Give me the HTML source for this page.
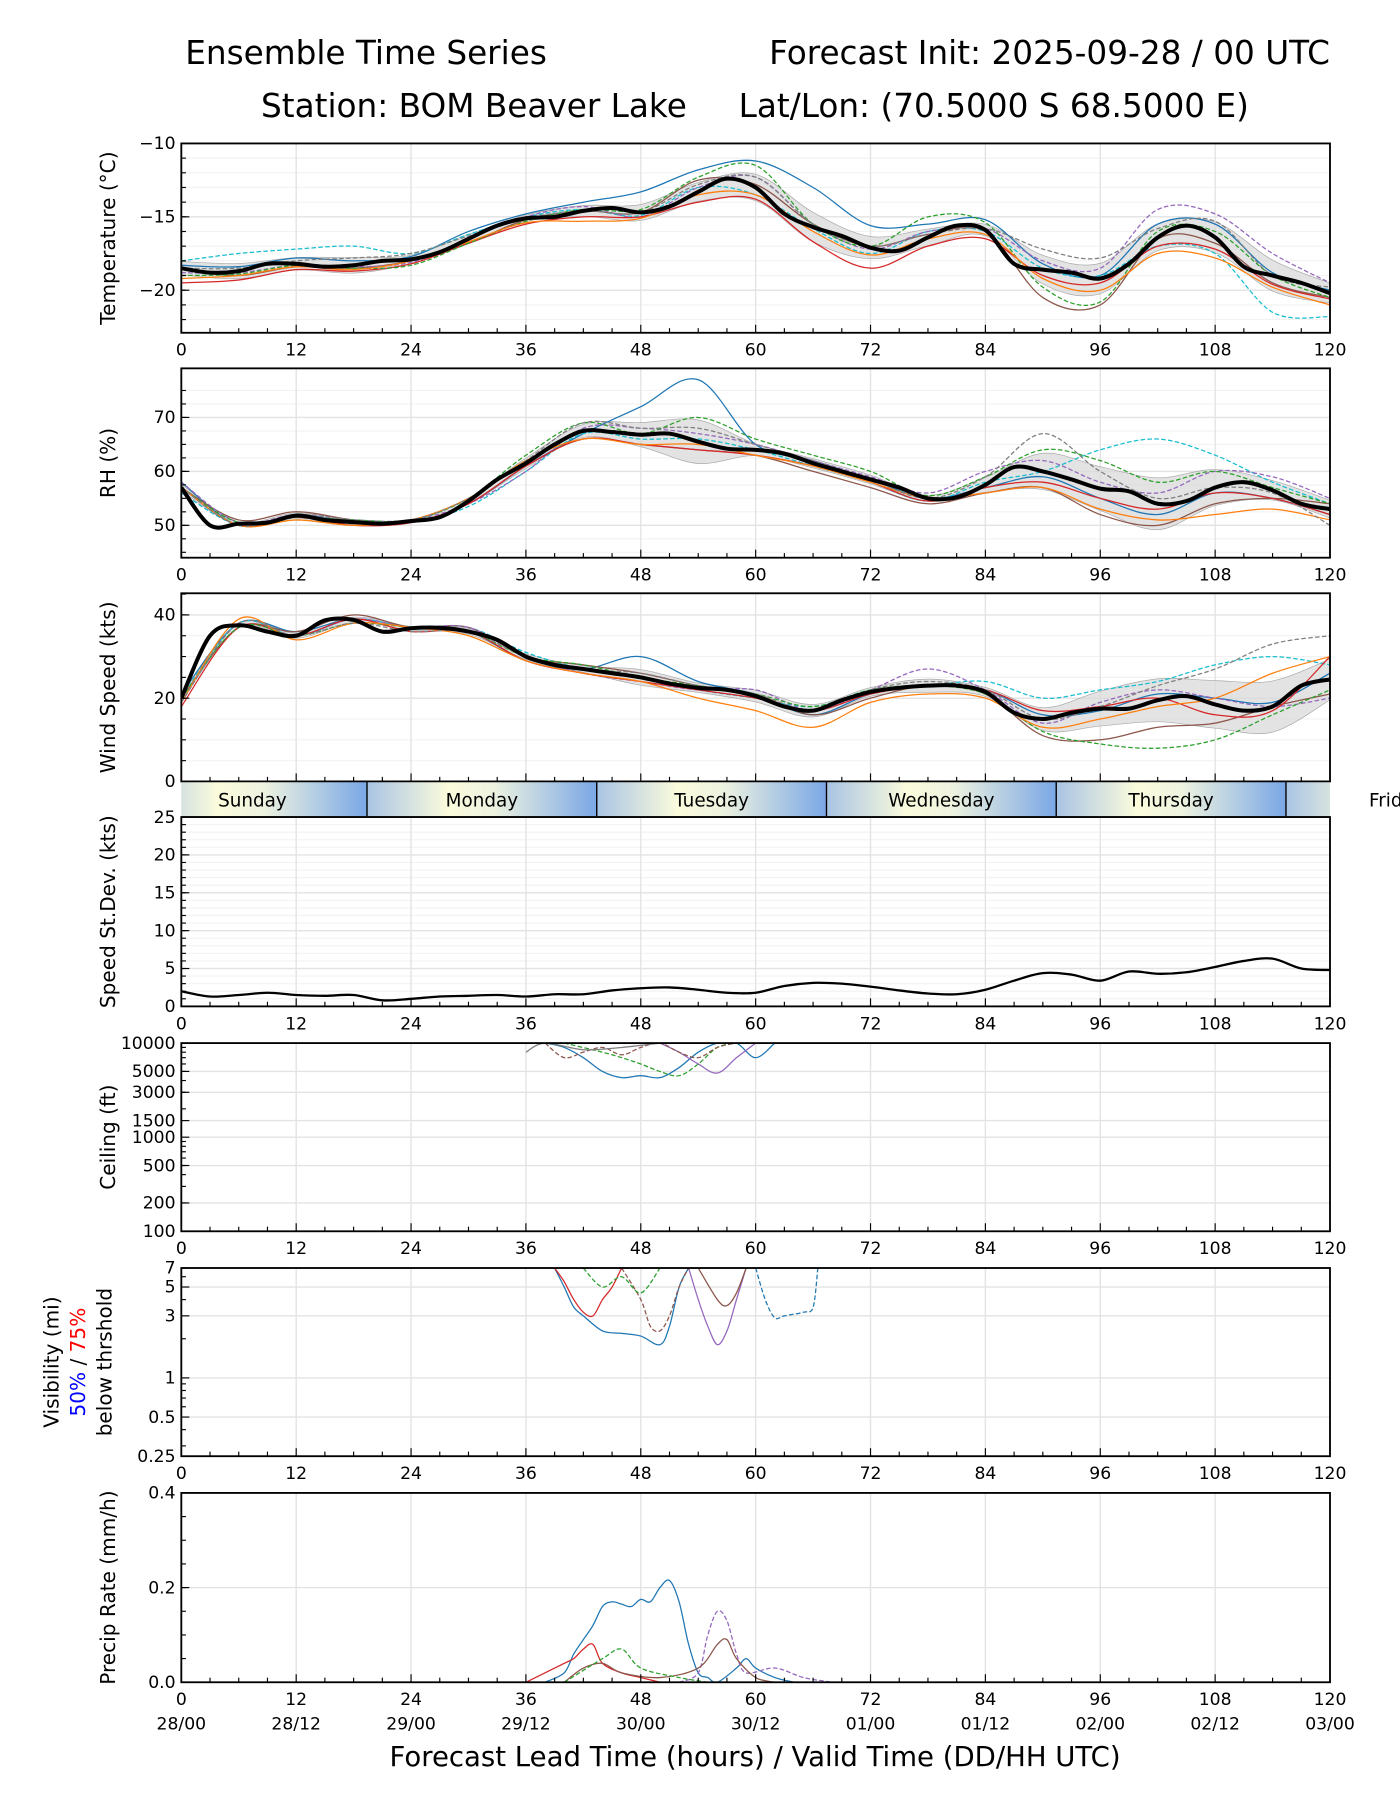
<!DOCTYPE html>
<html><head><meta charset="utf-8"><style>
html,body{margin:0;padding:0;background:#fff}
svg{display:block;font-family:"DejaVu Sans","Liberation Sans",sans-serif}
</style></head><body>
<svg id="chart" xmlns="http://www.w3.org/2000/svg" width="1400" height="1800" viewBox="0 0 1220 1568.6" preserveAspectRatio="none">
<text x="319" y="56" font-size="28.5" text-anchor="middle">Ensemble Time Series</text>
<text x="1159" y="56" font-size="28.5" text-anchor="end">Forecast Init: 2025-09-28 / 00 UTC</text>
<text x="413" y="102" font-size="28.5" text-anchor="middle">Station: BOM Beaver Lake</text>
<text x="866" y="102" font-size="28.5" text-anchor="middle">Lat/Lon: (70.5000 S 68.5000 E)</text>
<text x="658" y="1539" font-size="24" text-anchor="middle">Forecast Lead Time (hours) / Valid Time (DD/HH UTC)</text>
<g id="plots"></g>
</svg>
<script>
const hours3=[0,3,6,9,12,15,18,21,24,27,30,33,36,39,42,45,48,51,54,57,60,63,66,69,72,75,78,81,84,87,90,93,96,99,102,105,108,111,114,117,120];
const hours6=[0,6,12,18,24,30,36,42,48,54,60,66,72,78,84,90,96,102,108,114,120];
const xTicks=[0,12,24,36,48,60,72,84,96,108,120];
const dateLabels=["28/00","28/12","29/00","29/12","30/00","30/12","01/00","01/12","02/00","02/12","03/00"];
const dayNames=["Sunday","Monday","Tuesday","Wednesday","Thursday","Friday"];
const dayStartHour=-4.6;
const colors=["#1f77b4","#17becf","#8c564b","#9467bd","#d62728","#2ca02c","#ff7f0e","#7f7f7f"];

const tempMean=[-18.5,-18.8,-18.7,-18.2,-18.2,-18.4,-18.3,-18.0,-17.9,-17.4,-16.5,-15.6,-15.1,-15.0,-14.6,-14.4,-14.7,-14.3,-13.3,-12.4,-13.0,-14.8,-15.7,-16.3,-17.1,-17.3,-16.4,-15.6,-15.9,-18.2,-18.6,-18.8,-19.2,-18.2,-16.4,-15.6,-16.4,-18.4,-19.0,-19.5,-20.2];
const tempMembers=[
[-18.3,-18.4,-17.8,-18.0,-17.7,-16.0,-14.8,-14.0,-13.3,-11.8,-11.2,-13.0,-15.6,-15.5,-15.2,-18.2,-19.0,-15.5,-15.5,-18.8,-20.0],
[-18.0,-17.5,-17.2,-17.0,-17.5,-16.2,-15.0,-14.5,-14.9,-13.0,-13.5,-15.8,-17.5,-16.0,-16.0,-18.5,-19.0,-17.0,-17.5,-21.5,-21.8],
[-18.6,-19.0,-18.4,-18.5,-18.0,-16.8,-15.2,-14.6,-14.7,-12.5,-12.8,-15.5,-17.0,-16.2,-16.0,-20.5,-21.0,-16.5,-16.8,-19.5,-20.5],
[-18.8,-18.8,-18.3,-18.4,-18.1,-16.5,-15.0,-14.3,-15.0,-13.0,-12.3,-15.5,-17.2,-16.0,-15.8,-18.0,-18.5,-14.5,-14.8,-17.5,-19.5],
[-19.5,-19.3,-18.6,-18.7,-18.2,-16.8,-15.5,-15.0,-15.0,-14.0,-13.8,-16.7,-18.5,-17.0,-16.5,-19.0,-19.5,-17.0,-17.2,-19.6,-20.6],
[-19.0,-18.9,-18.3,-18.5,-18.3,-16.8,-15.3,-14.5,-14.5,-12.3,-11.5,-15.5,-17.0,-15.0,-15.4,-19.8,-20.8,-16.0,-16.0,-19.0,-20.5],
[-19.2,-19.0,-18.4,-18.6,-18.0,-16.7,-15.4,-15.3,-15.1,-13.5,-13.5,-16.0,-17.6,-16.5,-16.2,-19.2,-20.0,-17.5,-17.8,-19.8,-21.0],
[-18.5,-18.5,-18.0,-17.8,-17.5,-16.3,-15.1,-14.6,-14.7,-12.8,-12.3,-15.5,-17.0,-16.2,-15.8,-17.2,-17.8,-15.8,-15.3,-19.0,-19.8]];
const tempTicks=[-20,-15,-10];

const rhMean=[57,50,50.3,50.5,51.8,51,50.6,50.3,50.8,51.5,54.5,58.5,61.5,65,67.5,67.3,66.8,67,65.5,64.2,64,63.3,61.5,60,58.5,57,55,55.2,57.5,60.8,60,58.5,56.8,56.3,54,54.5,57,58,56.5,54,53];
const rhMembers=[
[58,50,52,50.5,50.5,54,61,67,72,77,65,62,58.5,55,57,59,55,52,56,55,52],
[56,50,51,50,50.5,53.5,60,67,66,66,64,61,58,54.5,58,60,64,66,63,58,54],
[57,51,52.5,51,50.5,54,61,66,65,64,63,60,57,54,56,57,52,50,54,55,54],
[58,50.5,52,51,51,54,60,68,68,67,65,62,59,56,60,62,58,56,60,59,55],
[57,50,51.5,50,50.5,54,61,66,65,64,63,61,58,54.5,57,58,55,53,56,55,52],
[57,50.5,51.5,51,51,55,63,69,67,70,66,63,60,55.5,59,64,62,58,60,57,54],
[57,50,51,50,51,55,62,66,65,65,63,61,58,55,56,57,53,51,52,53,51],
[57,50,52,51,51,55,62,69,68,68,65,62,58.5,55,59,67,60,55,57,56,50]];
const rhTicks=[50,60,70];

const windMean=[20,35,37.5,36,35,38.7,38.8,36,36.8,36.9,36,34,30,28,27,26,25,23.5,22.5,22,20.5,18,17,19.5,21.5,22.5,23,23,21.5,16.5,15,16.5,17.5,17.5,19.5,20.5,18.5,17,18,23,24.5];
const windMembers=[
[21,38,36,39,37,36,29,27,30,24,21,16,21,23,22,16,17,21,20,19,26],
[20,38,35,39,37,37,31,27,25,22,20,18,22,23,24,20,22,24,28,30,28],
[20,37,36,40,37,37,30,28,26,23,21,16,20,23,21,11,10,13,14,18,21],
[19,38,35,39,37,37,30,26,24,22,22,17,22,27,22,14,19,22,20,18,20],
[18,37,35,39,36,36,29,26,24,22,20,17,21,23,22,17,18,20,16,17,30],
[20,37,35,38,37,36,30,28,25,23,21,18,22,23,21,12,9,8,10,16,22],
[19,39,34,38,37,35,29,26,24,20,17,13,19,21,20,13,15,18,20,26,30],
[19,38,35,38,36,36,30,27,26,23,21,17,22,24,22,15,18,23,27,33,35]];
const windTicks=[0,20,40];

const stdevValues=[2,1.3,1.5,1.8,1.5,1.4,1.5,0.8,1.0,1.3,1.4,1.5,1.3,1.6,1.6,2.1,2.4,2.5,2.2,1.8,1.8,2.7,3.1,3.0,2.6,2.1,1.7,1.6,2.2,3.4,4.4,4.2,3.4,4.6,4.3,4.5,5.2,6.0,6.3,5.0,4.8];
const stdevTicks=[0,5,10,15,20,25];

const ceilTicks=[100,200,500,1000,1500,3000,5000,10000];
const ceilHours=[[38,40,42,44,46,48,50,52,54,56,58,60,62],[40,44,46,48,50,52,54,56,58],[50,52,54,56,58,60],[38,40,42,44,46,48,50,52,54,56,58],[36,38,42,46,50]];
const ceilValues=[[10000,9000,7000,5000,4300,4500,4300,5500,8000,10000,10000,7000,10000],[10000,8000,7000,6000,5000,4500,6000,9000,10000],[10000,8000,6000,4800,7000,10000],[10000,7000,8000,9000,7500,9000,10000,8000,7000,9000,10000],[8000,10000,8500,9000,10000]];
const ceilColors=[0,5,3,2,7];

const visTicks=[0.25,0.5,1,3,5,7];
const visHours=[[39,40,41,42,44,46,48,50,51,52,53],[46,48,49,50,51,52,53],[53,54,55,56,57,58,59],[60,61,62,63,65,66,66.5],[39,40,41,42,43,44,45,46],[42,44,46,48,50],[54,56,57,58,59]];
const visValues=[[7,5,3.5,3,2.3,2.2,2.1,1.8,2.5,5,7],[7,4,2.5,2.3,3,5,7],[7,4,2.5,1.8,2.3,4,7],[7,4,2.9,3,3.2,3.5,7],[7,5.5,4,3.2,3,4,5,7],[7,5,6,4.5,7],[7,4,3.6,4.5,7]];
const visColors=[0,2,3,0,4,5,2];

const precipTicks=[0,0.2,0.4];
const precipHours=[[38,40,41,42,43,44,45,46,47,48,49,50,51,52,53,54,55,56,58,59,60,62,64],[52,54,55,56,57,58,59,62,65,68],[36,38,40,41,42,43,44,46,48,50],[40,42,44,46,50,54,56,57,58,60,62],[40,44,46,48,52,55]];
const precipValues=[[0,0.02,0.06,0.09,0.12,0.16,0.17,0.165,0.16,0.175,0.17,0.2,0.215,0.17,0.08,0.02,0.01,0,0.03,0.05,0.03,0.01,0],[0,0.02,0.1,0.15,0.13,0.06,0.02,0.03,0.01,0],[0,0.02,0.04,0.05,0.07,0.08,0.04,0.02,0.01,0],[0,0.03,0.04,0.02,0.01,0.03,0.08,0.09,0.05,0.01,0],[0,0.05,0.07,0.03,0.01,0]];
const precipColors=[0,3,4,2,5];

const NS="http://www.w3.org/2000/svg";
const X0=158,X1=1159;
const xs=h=>X0+(h/120)*(X1-X0);
const root=document.getElementById('plots');
function el(tag,attrs,parent){const e=document.createElementNS(NS,tag);for(const k in attrs)e.setAttribute(k,attrs[k]);(parent||root).appendChild(e);return e;}
function smoothPath(pts){
  if(pts.length<2)return '';
  let d='M'+pts[0][0].toFixed(1)+','+pts[0][1].toFixed(1);
  for(let i=0;i<pts.length-1;i++){
    const p0=pts[i-1]||pts[i],p1=pts[i],p2=pts[i+1],p3=pts[i+2]||p2;
    const c1=[p1[0]+(p2[0]-p0[0])/6,p1[1]+(p2[1]-p0[1])/6];
    const c2=[p2[0]-(p3[0]-p1[0])/6,p2[1]-(p3[1]-p1[1])/6];
    d+='C'+c1[0].toFixed(1)+','+c1[1].toFixed(1)+' '+c2[0].toFixed(1)+','+c2[1].toFixed(1)+' '+p2[0].toFixed(1)+','+p2[1].toFixed(1);
  }
  return d;
}
function panel(name,top,bot,ys,yTickVals,yTickLabels,minorVals,minorGrid,ylabel,xlabels){
  const g=el('g',{});
  
  
  const clipId='clip-'+name;
  const cp=el('clipPath',{id:clipId},g);el('rect',{x:X0,y:top,width:X1-X0,height:bot-top},cp);
  if(minorGrid)minorVals.forEach(v=>el('line',{x1:X0,x2:X1,y1:ys(v),y2:ys(v),stroke:'#f2f2f2','stroke-width':1},g));
  yTickVals.forEach(v=>el('line',{x1:X0,x2:X1,y1:ys(v),y2:ys(v),stroke:'#e3e3e3','stroke-width':1.2},g));
  xTicks.forEach(h=>el('line',{x1:xs(h),x2:xs(h),y1:top,y2:bot,stroke:'#e3e3e3','stroke-width':1.2},g));
  const data=el('g',{'clip-path':'url(#'+clipId+')'},g);
  for(let h=0;h<=120;h+=3){const big=h%12===0;el('line',{x1:xs(h),x2:xs(h),y1:bot,y2:bot-(big?7:4),stroke:'#000','stroke-width':1},g);}
  minorVals.forEach(v=>el('line',{x1:X0,x2:X0+4,y1:ys(v),y2:ys(v),stroke:'#000','stroke-width':1},g));
  yTickVals.forEach((v,i)=>{el('line',{x1:X0,x2:X0+7,y1:ys(v),y2:ys(v),stroke:'#000','stroke-width':1},g);
    const t=el('text',{x:X0-5,y:ys(v)+5,'font-size':15,'text-anchor':'end'},g);t.textContent=yTickLabels[i];
    
    });
  if(xlabels){xTicks.forEach(h=>{const t=el('text',{x:xs(h),y:bot+20,'font-size':15,'text-anchor':'middle'},g);t.textContent=h;
    
    });}
  if(ylabel){const cy=(top+bot)/2;const t=el('text',{x:0,y:0,'font-size':17.5,'text-anchor':'middle',transform:'translate(100,'+cy+') rotate(-90)'},g);t.textContent=ylabel;
    
    }
  return {g,data,frame:()=>el('rect',{x:X0,y:top,width:X1-X0,height:bot-top,fill:'none',stroke:'#000','stroke-width':1.6},g)};
}
function drawEnsemble(P,ys,mean,members){
  const std=hours6.map((h,j)=>{const m=members.map(r=>r[j]);const mu=m.reduce((a,b)=>a+b,0)/m.length;return Math.sqrt(m.reduce((a,b)=>a+(b-mu)*(b-mu),0)/m.length);});
  const mean6=hours6.map(h=>mean[hours3.indexOf(h)]);
  const up=hours6.map((h,j)=>[xs(h),ys(mean6[j]+std[j])]);
  const lo=hours6.map((h,j)=>[xs(h),ys(mean6[j]-std[j])]).reverse();
  const band=el('path',{d:smoothPath(up)+'L'+smoothPath(lo).slice(1)+'Z',fill:'#d9d9d9','fill-opacity':0.75,stroke:'#aaa','stroke-width':0.6},P.data);
  
  
  members.forEach((m,i)=>{const p=el('path',{d:smoothPath(hours6.map((h,j)=>[xs(h),ys(m[j])])),fill:'none',stroke:colors[i],'stroke-width':1.1,'stroke-dasharray':i%2?'4,2':'none'},P.data);
    
    });
  const ml=el('path',{d:smoothPath(hours3.map((h,j)=>[xs(h),ys(mean[j])])),fill:'none',stroke:'#000','stroke-width':3.5},P.data);
  
  
}
function range(a,b,s){const r=[];for(let v=a;v<=b+1e-9;v+=s)r.push(+v.toFixed(3));return r;}

{const top=125,bot=290;const ys=v=>top+(-10-v)/12.9*(bot-top);
 const P=panel('temperature',top,bot,ys,tempTicks,['−20','−15','−10'],range(-22,-10,1),true,'Temperature (°C)',true);
 drawEnsemble(P,ys,tempMean,tempMembers);P.frame();}
{const top=321,bot=486;const ys=v=>top+(79.1-v)/35.1*(bot-top);
 const P=panel('rh',top,bot,ys,rhTicks,['50','60','70'],range(45,75,2.5),true,'RH (%)',true);
 drawEnsemble(P,ys,rhMean,rhMembers);P.frame();}
{const top=517,bot=681;const ys=v=>bot-v/45.2*(bot-top);
 const P=panel('wind-speed',top,bot,ys,windTicks,['0','20','40'],range(0,45,5),true,'Wind Speed (kts)',false);
 drawEnsemble(P,ys,windMean,windMembers);P.frame();}
{const top=681,bot=712;const g=el('g',{});
 
 
 const defs=el('defs',{},g);const gr=el('linearGradient',{id:'dayg',x1:0,x2:1,y1:0,y2:0},defs);
 [[0,'#a9c4e4'],[0.35,'#fbfbdc'],[0.55,'#eef3e0'],[1,'#7aa7e6']].forEach(s=>el('stop',{offset:s[0],'stop-color':s[1]},gr));
 el('clipPath',{id:'bandclip'},defs).appendChild((()=>{const r=document.createElementNS(NS,'rect');r.setAttribute('x',X0);r.setAttribute('y',top);r.setAttribute('width',X1-X0);r.setAttribute('height',bot-top);return r;})());
 const c=el('g',{'clip-path':'url(#bandclip)'},g);
 dayNames.forEach((n,i)=>{const a=dayStartHour+24*i,b=a+24;
   el('rect',{x:xs(a),y:top,width:xs(b)-xs(a),height:bot-top,fill:'url(#dayg)'},c);
   if(b<120)el('line',{x1:xs(b),x2:xs(b),y1:top,y2:bot,stroke:'#000','stroke-width':1.2},g);
   const t=el('text',{x:i===0?220:(i===5?1193:xs(a+12)),y:top+22,'font-size':16,'text-anchor':i===5?'start':'middle'},g);t.textContent=n;
   
   });
 el('line',{x1:X0,x2:X1,y1:top,y2:top,stroke:'#000','stroke-width':1.4},g);
 el('line',{x1:X0,x2:X1,y1:bot,y2:bot,stroke:'#000','stroke-width':1.4},g);}
{const top=712,bot=877;const ys=v=>bot-v/25*(bot-top);
 const P=panel('speed-stdev',top,bot,ys,stdevTicks,stdevTicks.map(String),range(0,25,1),true,'Speed St.Dev. (kts)',true);
 const p=el('path',{d:smoothPath(hours3.map((h,j)=>[xs(h),ys(stdevValues[j])])),fill:'none',stroke:'#000','stroke-width':2},P.data);
 
 
 P.frame();}
{const top=909,bot=1073;const ys=v=>bot-Math.log10(v/100)/2*(bot-top);
 const minor=[];[100,1000].forEach(b=>{for(let k=2;k<=9;k++)minor.push(b*k);});
 const P=panel('ceiling',top,bot,ys,ceilTicks,ceilTicks.map(String),minor,false,'Ceiling (ft)',true);
 ceilHours.forEach((hs,i)=>{const p=el('path',{d:smoothPath(hs.map((h,j)=>[xs(h),ys(ceilValues[i][j])])),fill:'none',stroke:colors[ceilColors[i]],'stroke-width':1.1,'stroke-dasharray':i%2?'4,2':'none'},P.data);
  
  });
 P.frame();}
{const top=1105,bot=1269;const ys=v=>bot-Math.log(v/0.25)/Math.log(28)*(bot-top);
 const P=panel('visibility',top,bot,ys,visTicks,visTicks.map(String),[0.3,0.4,0.6,0.7,0.8,0.9,2,4,6],false,null,true);
 visHours.forEach((hs,i)=>{const p=el('path',{d:smoothPath(hs.map((h,j)=>[xs(h),ys(visValues[i][j])])),fill:'none',stroke:colors[visColors[i]],'stroke-width':1.1,'stroke-dasharray':i%2?'4,2':'none'},P.data);
  
  });
 P.frame();
 const cy=(top+bot)/2;
 const t1=el('text',{'font-size':17.5,'text-anchor':'middle',transform:'translate(51,'+cy+') rotate(-90)'},P.g);t1.textContent='Visibility (mi)';
 
 
 const t2=el('text',{'font-size':17.5,'text-anchor':'middle',transform:'translate(74,'+cy+') rotate(-90)'},P.g);
 
 
 const s1=el('tspan',{fill:'#0000ff'},t2);s1.textContent='50%';const s2=el('tspan',{},t2);s2.textContent=' / ';const s3=el('tspan',{fill:'#ff0000'},t2);s3.textContent='75%';
 const t3=el('text',{'font-size':17.5,'text-anchor':'middle',transform:'translate(97,'+cy+') rotate(-90)'},P.g);t3.textContent='below thrshold';
 
 }
{const top=1301,bot=1466;const ys=v=>bot-v/0.4*(bot-top);
 const P=panel('precip-rate',top,bot,ys,precipTicks,['0.0','0.2','0.4'],range(0,0.4,0.05),false,'Precip Rate (mm/h)',true);
 precipHours.forEach((hs,i)=>{const p=el('path',{d:smoothPath(hs.map((h,j)=>[xs(h),ys(precipValues[i][j])])),fill:'none',stroke:colors[precipColors[i]],'stroke-width':1.1,'stroke-dasharray':i===1||i===4?'4,2':'none'},P.data);
  
  });
 P.frame();
 xTicks.forEach((h,i)=>{const t=el('text',{x:xs(h),y:bot+41,'font-size':15,'text-anchor':'middle'},P.g);t.textContent=dateLabels[i];
  
  });}
</script>
</body></html>
